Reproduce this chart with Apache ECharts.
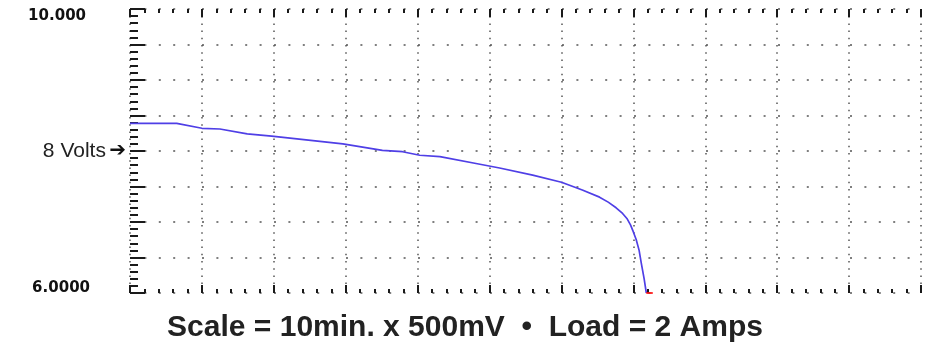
<!DOCTYPE html>
<html>
<head>
<meta charset="utf-8">
<script src="https://cdn.jsdelivr.net/npm/echarts@6/dist/echarts.min.js"></script>
<style>
html,body{margin:0;padding:0;background:#fff;}
#chart{width:930px;height:350px;}
</style>
</head>
<body>
<div id="chart"></div>
<script>
// Discharge curve (time in minutes, voltage in volts)
const timeMin = [0, 6.5, 10.0, 12.5, 16.3, 19.7, 29.6, 35.1, 37.9, 40.3, 43.1, 48.3, 51.4, 56.0, 60.0, 62.9, 65.3, 66.5, 67.6, 68.5, 69.1, 69.6, 70.0, 70.4, 70.8, 71.1, 71.5, 71.8];
const volts   = [8.39, 8.39, 8.32, 8.31, 8.24, 8.21, 8.10, 8.01, 7.99, 7.94, 7.92, 7.82, 7.76, 7.66, 7.56, 7.45, 7.35, 7.28, 7.20, 7.12, 7.05, 6.96, 6.86, 6.75, 6.60, 6.42, 6.20, 6.0];
const cutoffTime  = [71.8, 72.7];
const cutoffVolts = [6.0, 6.0];

// Axis settings / labels
const xMin = 0, xMax = 110, xStep = 10;
const yMin = 6, yMax = 10, yStep = 0.5;
const yLabelValues = [10, 8, 6];
const yLabelTexts  = ['10.000', '8 Volts', '6.0000'];
const yArrow = '➔';
const caption = 'Scale = 10min. x 500mV  •  Load = 2 Amps';

const chart = echarts.init(document.getElementById('chart'), null, {renderer: 'canvas'});

function pair(xs, ys) { return xs.map((x, i) => [x, ys[i]]); }

const tickStyle = {color: '#1a1a1a', width: 2};
function xAxisDef(pos) {
  return {
    type: 'value', position: pos, min: xMin, max: xMax, interval: xStep,
    axisLine: {show: false},
    axisLabel: {show: false},
    axisTick: {show: true, inside: true, length: 8, lineStyle: tickStyle},
    minorTick: {show: true, splitNumber: 5, length: 4, lineStyle: tickStyle},
    splitLine: {show: pos === 'bottom', lineStyle: {color: '#555', width: 1.5, type: [1.5, 5.7]}}
  };
}

chart.setOption({
  backgroundColor: '#ffffff',
  animation: false,
  title: {
    text: caption, left: 'center', top: 308,
    textStyle: {fontFamily: 'Liberation Sans', fontWeight: 'bold', fontSize: 30, color: '#222'}
  },
  grid: {left: 130, right: 9, top: 9, bottom: 57},
  xAxis: [xAxisDef('bottom'), xAxisDef('top')],
  yAxis: {
    type: 'value', min: yMin, max: yMax, interval: yStep,
    axisLine: {show: false},
    axisTick: {show: true, inside: true, length: 15, lineStyle: tickStyle},
    minorTick: {show: true, splitNumber: 5, length: 8, lineStyle: tickStyle},
    splitLine: {show: true, lineStyle: {color: '#555', width: 1.5, type: [2, 12.4]}},
    axisLabel: {
      margin: 4,
      align: 'right',
      formatter: function (v) {
        const i = yLabelValues.indexOf(Math.round(v * 1000) / 1000);
        if (i < 0) return '';
        if (i === 0) return '{top|' + yLabelTexts[i] + '}';
        if (i === 2) return '{bot|' + yLabelTexts[i] + '}';
        return '{mid|' + yLabelTexts[i] + '} {arr|' + yArrow + '}';
      },
      rich: {
        top: {fontFamily: 'DejaVu Sans', fontWeight: 'bold', fontSize: 15, color: '#111', padding: [14, 40, 0, 0]},
        bot: {fontFamily: 'DejaVu Sans', fontWeight: 'bold', fontSize: 15, color: '#111', padding: [0, 36, 10, 0]},
        mid: {fontFamily: 'Liberation Sans', fontSize: 21, color: '#222'},
        arr: {fontFamily: 'DejaVu Sans', fontSize: 20, fontWeight: 'bold', color: '#111'}
      }
    }
  },
  series: [
    {
      type: 'line', data: pair(timeMin, volts), showSymbol: false, smooth: false,
      lineStyle: {color: '#4f3fe6', width: 1.7}, z: 5
    },
    {
      type: 'line', data: pair(cutoffTime, cutoffVolts), showSymbol: false,
      lineStyle: {color: '#ff1010', width: 1.7}, clip: false, z: 6
    }
  ]
});
</script>
</body>
</html>
